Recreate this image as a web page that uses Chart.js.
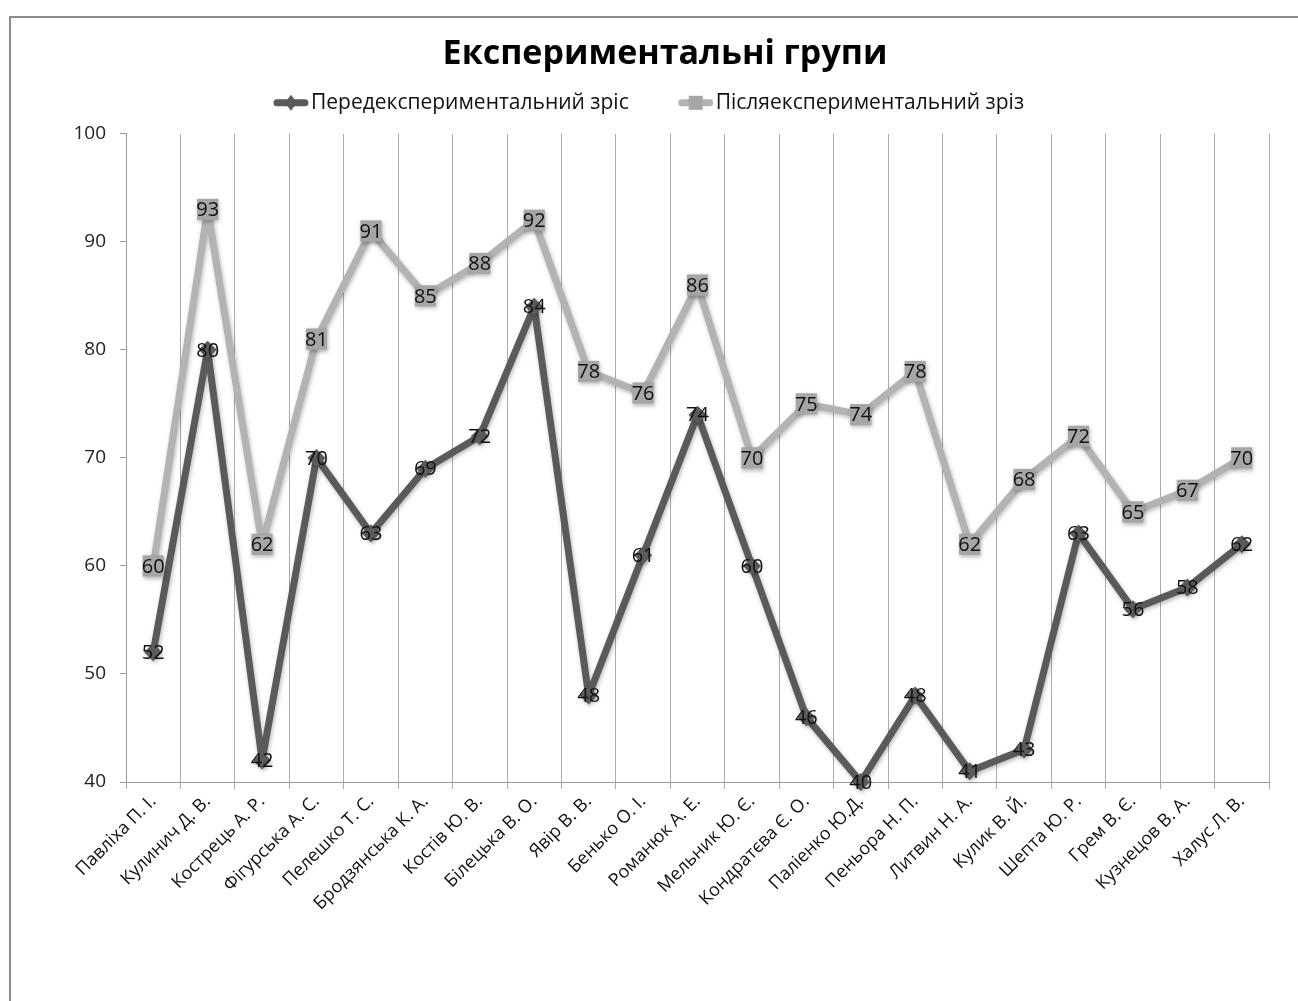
<!DOCTYPE html>
<html lang="uk">
<head>
<meta charset="utf-8">
<title>Експериментальні групи</title>
<script src="https://cdn.jsdelivr.net/npm/chart.js@4.4.1/dist/chart.umd.min.js"></script>
<style>
  html, body { margin: 0; padding: 0; background: #fff; overflow: hidden; }
  #frame { position: absolute; left: 9px; top: 16px; width: 1400px; height: 1100px; border: 2px solid #8c8c8c; }
  #myLineChart { position: absolute; left: 0; top: 0; }
</style>
</head>
<body>
<div id="frame"></div>
<canvas id="myLineChart" width="1298" height="1001"></canvas>
<script>
// line chart: two test rounds per student

const students = ["Павліха П. І.", "Кулинич Д. В.", "Кострець А. Р.", "Фігурська А. С.", "Пелешко Т. С.",
    "Бродзянська К. А.", "Костів Ю. В.", "Білецька В. О.", "Явір В. В.", "Бенько О. І.", "Романюк А. Е.",
    "Мельник Ю. Є.", "Кондратєва Є. О.", "Паліенко Ю.Д.", "Пеньора Н. П.", "Литвин Н. А.", "Кулик В. Й.",
    "Шепта Ю. Р.", "Грем В. Є.", "Кузнецов В. А.", "Халус Л. В."];
const before = [52, 80, 42, 70, 63, 69, 72, 84, 48, 61, 74, 60, 46, 40, 48, 41, 43, 63, 56, 58, 62];
const after = [60, 93, 62, 81, 91, 85, 88, 92, 78, 76, 86, 70, 75, 74, 78, 62, 68, 72, 65, 67, 70];
const yTicks = [40, 50, 60, 70, 80, 90, 100];
const seriesNames = ["Передекспериментальний зріс", "Післяекспериментальний зріз"];

const darkGray = "#5a5a5a";
const lightGray = "#b3b3b3";
const boxGray = "#a6a6a6";
const fontName = "'Open Sans', sans-serif";

// soft drop shadow under lines and markers
const softShadow = {
    id: "softShadow",
    beforeDatasetsDraw(chart) {
        const c = chart.ctx;
        c.save();
        c.shadowColor = "rgba(0,0,0,0.28)";
        c.shadowBlur = 4;
        c.shadowOffsetX = 1;
        c.shadowOffsetY = 2;
    },
    afterDatasetsDraw(chart) {
        chart.ctx.restore();
    }
};

// value written on top of every marker
const valueLabels = {
    id: "valueLabels",
    afterDatasetsDraw(chart) {
        const c = chart.ctx;
        c.save();
        c.font = "20px " + fontName;
        c.textAlign = "center";
        c.textBaseline = "middle";
        c.fillStyle = "#111";
        chart.data.datasets.forEach((ds, i) => {
            chart.getDatasetMeta(i).data.forEach((pt, j) => {
                c.fillText(ds.data[j], pt.x, pt.y + 1);
            });
        });
        c.restore();
    }
};

// legend with a short line and marker in front of each name
const lineLegend = {
    id: "lineLegend",
    afterDraw(chart) {
        const c = chart.ctx;
        const sets = chart.data.datasets;
        const lineLen = 34, textGap = 3, itemGap = 50;
        c.save();
        c.font = "21px " + fontName;
        const widths = sets.map(ds => lineLen + textGap + c.measureText(ds.label).width);
        const total = widths.reduce((a, b) => a + b, 0) + itemGap * (sets.length - 1);
        let x = chart.width / 2 - total / 2;
        const y = chart.chartArea.top - 31;
        sets.forEach((ds, i) => {
            c.strokeStyle = ds.borderColor;
            c.lineWidth = 7;
            c.lineCap = "round";
            c.beginPath();
            c.moveTo(x + 3, y);
            c.lineTo(x + lineLen - 3, y);
            c.stroke();
            c.fillStyle = ds.pointBackgroundColor;
            const mx = x + lineLen / 2;
            c.beginPath();
            if (ds.pointStyle === "rectRot") {
                c.moveTo(mx, y - 8); c.lineTo(mx + 6, y); c.lineTo(mx, y + 8); c.lineTo(mx - 6, y);
            } else {
                c.rect(mx - 7, y - 7, 14, 14);
            }
            c.fill();
            c.fillStyle = "#111";
            c.textBaseline = "middle";
            c.fillText(ds.label, x + lineLen + textGap, y);
            x += widths[i] + itemGap;
        });
        c.restore();
    }
};

const chartData = {
    type: "line",
    data: {
        labels: students,
        datasets: [{
            label: seriesNames[0],
            data: before,
            borderColor: darkGray,
            borderWidth: 7,
            borderJoinStyle: "round",
            pointStyle: "rectRot",
            pointRadius: 9,
            pointBorderWidth: 0,
            pointBackgroundColor: darkGray,
            pointBorderColor: darkGray,
            clip: false,
            order: 1
        }, {
            label: seriesNames[1],
            data: after,
            borderColor: lightGray,
            borderWidth: 7,
            borderJoinStyle: "round",
            pointStyle: "rect",
            pointRadius: 15,
            pointBorderWidth: 0,
            pointBackgroundColor: boxGray,
            pointBorderColor: boxGray,
            clip: false,
            order: 0
        }]
    },
    options: {
        responsive: false,
        animation: false,
        events: [],
        layout: { padding: { left: 61, right: 29, top: 0, bottom: 0 } },
        plugins: {
            legend: { display: false },
            tooltip: { enabled: false },
            title: {
                display: true,
                text: "Експериментальні групи",
                color: "#000",
                font: { family: fontName, size: 34, weight: "bold" },
                padding: { top: 34, bottom: 59 }
            }
        },
        scales: {
            x: {
                offset: true,
                afterFit: s => { s.height = 219; },
                grid: { offset: true, color: "#ababab", lineWidth: 1, tickLength: 7 },
                border: { color: "#9a9a9a" },
                ticks: {
                    autoSkip: false, maxRotation: 45, minRotation: 45, padding: 2,
                    color: "#111", font: { family: fontName, size: 18 }
                }
            },
            y: {
                min: yTicks[0],
                max: yTicks[yTicks.length - 1],
                afterFit: s => { s.width = 65; },
                grid: { drawOnChartArea: false, color: "#9a9a9a", tickLength: 6 },
                border: { color: "#9a9a9a" },
                ticks: {
                    stepSize: yTicks[1] - yTicks[0], padding: 14,
                    color: "#222", font: { family: fontName, size: 19 }
                }
            }
        }
    },
    plugins: [softShadow, valueLabels, lineLegend]
};

let lineChart = new Chart("myLineChart", chartData);
</script>
</body>
</html>
